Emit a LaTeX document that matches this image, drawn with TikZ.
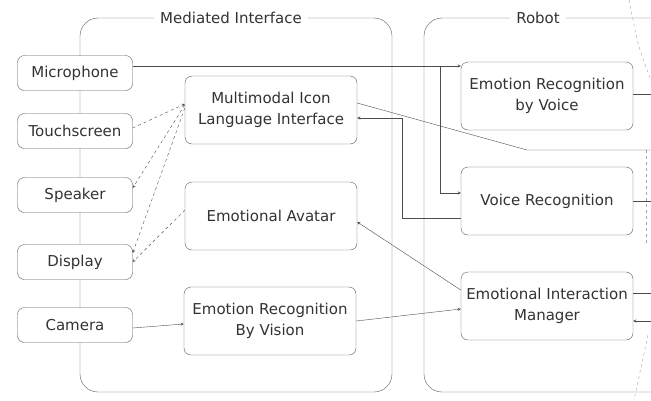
\documentclass[tikz,border=0pt]{standalone}
\usepackage{fontspec}
\setmainfont{DejaVu Sans}
\begin{document}
\begin{tikzpicture}[x=1pt,y=-1pt,
    every node/.style={font=\fontsize{15}{21}\selectfont, text=black!80},
    box/.style={draw=black!65, rounded corners=7pt, fill=white, inner sep=2pt, align=center},
    dev/.style={box, minimum width=115pt, minimum height=35pt},
    unit/.style={box, minimum width=172pt, minimum height=68pt},
    frame/.style={draw=black!65, rounded corners=18pt},
    title/.style={fill=white, inner sep=6pt},
    conn/.style={draw=black!70, ->, >=stealth},
    link/.style={draw=black!70},
    ghost/.style={draw=black!35, dashed}]
        \useasboundingbox (0,0) rectangle (651,400);

        % containers
        \draw [frame] (80,18) rectangle (392,392);
        \draw [frame] (651,18) -- (424,18) -- (424,392) -- (651,392);
        \draw (231,18) node (mitit) [title] {Mediated Interface};
        \draw (538,18) node (rbtit) [title] {Robot};

        % cut-off part at the right edge
        \draw [ghost] (629,0) -- (633,20) .. controls (638,45) .. (650,78);
        \draw [ghost] (646,150) -- (646,245);
        \draw [ghost] (648,335) -- (634,400);

        % devices
        \draw (75,73) node (mic) [dev] {Microphone};
        \draw (75,131) node (touch) [dev] {Touchscreen};
        \draw (75,195) node (spk) [dev] {Speaker};
        \draw (75,262) node (disp) [dev] {Display};
        \draw (75,325) node (cam) [dev] {Camera};

        % mediated interface
        \draw (271,110) node (mili) [unit] {Multimodal Icon\\Language Interface};
        \draw (271,216) node (avatar) [unit] {Emotional Avatar};
        \draw (270,321) node (erbv) [unit] {Emotion Recognition\\By Vision};

        % robot
        \draw (547,96) node (erv) [unit] {Emotion Recognition\\by Voice};
        \draw (547,201) node (vr) [unit] {Voice Recognition};
        \draw (547,306) node (eim) [unit] {Emotional Interaction\\Manager};

        \coordinate (rim) at (651,0);
        \coordinate (split) at (440,66);
        \coordinate (kink) at (527,150);

        \path [conn] ([yshift=7pt]mic.east) to (split -| erv.west);
        \path [conn] (split) |- ([yshift=8pt]vr.west);
        \path [conn] ([yshift=-17pt]vr.west) -- ++(-59,0) |- ([yshift=-8pt]mili.east);
        \path [link] ([yshift=7pt]mili.east) -- (kink) -- (kink -| rim);

        \path [conn,dashed] ([yshift=3pt]touch.east) to ([yshift=6pt]mili.west);
        \path [conn,dashed] ([yshift=5pt]mili.west) to ([yshift=7pt]spk.east);
        \path [conn,dashed] ([yshift=2pt]mili.west) to ([yshift=9pt]disp.east);
        \path [conn,dashed] ([yshift=6pt]avatar.west) to (disp.east);

        \path [conn] ([yshift=-3pt]cam.east) to ([yshift=-3pt]erbv.west);
        \path [conn] (erbv.east) to ([yshift=-3pt]eim.west);
        \path [conn] ([yshift=16pt]eim.west) to ([yshift=-6pt]avatar.east);

        \path [link] ([yshift=2pt]erv.east) to ([yshift=2pt]erv.east -| rim);
        \path [link] (vr.east) to (vr.east -| rim);
        \path [link] ([yshift=13pt]eim.east) to ([yshift=13pt]eim.east -| rim);
        \path [conn] ([yshift=-15pt]eim.east -| rim) to ([yshift=-15pt]eim.east);

    \end{tikzpicture}
\end{document}
